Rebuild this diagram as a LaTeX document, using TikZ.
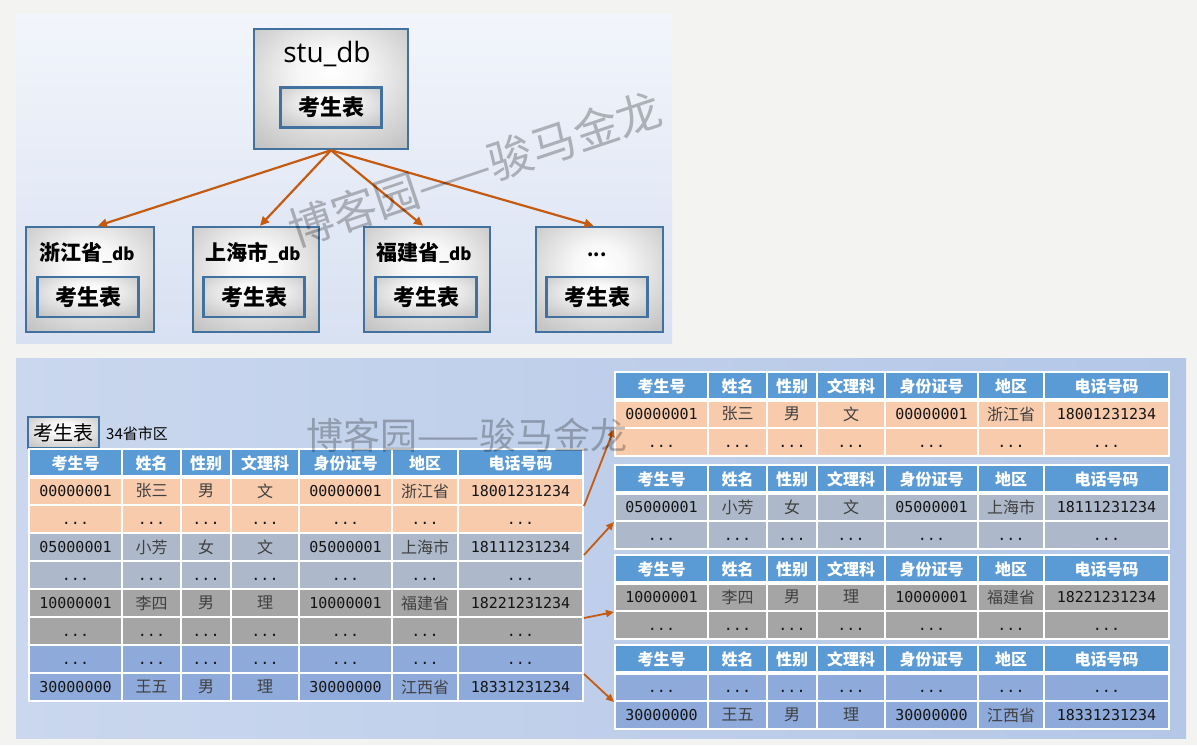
\documentclass[tikz,border=0pt]{standalone}
\usepackage{fontspec}
\setmainfont{Noto Sans CJK SC}
\newfontfamily\cjk{Noto Sans CJK SC}
\newfontfamily\monof{DejaVu Sans Mono}
\newfontfamily\uif{Open Sans}
\usetikzlibrary{arrows.meta,calc}
\definecolor{pagebg}{HTML}{F3F4F1}
\definecolor{ptop}{HTML}{F2F5FB}
\definecolor{pbot}{HTML}{D8E1F2}
\definecolor{qleft}{HTML}{CAD7EE}
\definecolor{qright}{HTML}{B4C7E7}
\definecolor{boxb}{HTML}{41719C}
\definecolor{arrc}{HTML}{C55A11}
\definecolor{hdr}{HTML}{5B9BD5}
\definecolor{rorange}{HTML}{F8CBAD}
\definecolor{rbgray}{HTML}{ADB9CA}
\definecolor{rgray}{HTML}{A5A5A5}
\definecolor{rblue}{HTML}{8EAADB}
\definecolor{cjkgray}{HTML}{404040}
\definecolor{numblk}{HTML}{151515}
\pgfdeclareradialshading{boxsh}{\pgfpoint{0bp}{8bp}}{color(0bp)=(white); color(10bp)=(white!97!black); color(50bp)=(black!34); color(75bp)=(black!46)}
\newcommand\fs[1]{\fontsize{#1}{#1}\selectfont}
\newcommand\dd{{\monof\fs{15}\color{numblk}\vphantom{0}...}}
\newcommand\cellfont[1]{\ifnum#1=1 \monof\fs{15}\color{numblk}\else\ifnum#1=5 \monof\fs{15}\color{numblk}\else\ifnum#1=7 \monof\fs{15}\color{numblk}\else\cjk\fs{16}\color{cjkgray}\fi\fi\fi}
\def\colL{{0,93,152,202,270,363,429}}
\def\colR{{93,152,202,270,363,429,554}}
\tikzset{
  hcell/.style={draw=white, line width=2, fill=hdr, minimum height=28, inner sep=0, text=white, font={\cjk\bfseries\fs{16}}},
  bcell/.style={draw=white, line width=2, minimum height=28, inner sep=0},
  dbbox/.style={draw=boxb, line width=2.5, shading=boxsh, inner sep=0},
  tblbox/.style={draw=boxb, line width=2.2, shading=boxsh, inner sep=0, minimum width=101, minimum height=40, font={\cjk\bfseries\fs{22}}},
  arr/.style={draw=arrc, line width=2.2, -{Triangle[length=9pt,width=8.5pt]}},
  arrs/.style={draw=arrc, line width=1.8, -{Triangle[length=8pt,width=7pt]}},
  wm/.style={text=black, text opacity=0.26, inner sep=0}
}
\newcommand\thead[3]{%
  \foreach \tx [count=\ci] in {考生号,姓名,性别,文理科,身份证号,地区,电话号码}{%
    \pgfmathsetmacro\xa{\colL[\ci-1]}%
    \pgfmathsetmacro\xb{\colR[\ci-1]}%
    \node[hcell, minimum width={\xb-\xa}] (#1-\ci) at ({#2+(\xa+\xb)/2},{#3+14}) {\tx};
  }
  \draw[white, line width=4] (#2,#3+28) -- (#2+554,#3+28);
}
\newcommand\trow[5]{%
  \foreach \tx [count=\ci] in {#5}{%
    \pgfmathsetmacro\xa{\colL[\ci-1]}%
    \pgfmathsetmacro\xb{\colR[\ci-1]}%
    \node[bcell, fill=#4, minimum width={\xb-\xa}] (#1-\ci) at ({#2+(\xa+\xb)/2},{#3+14}) {\cellfont{\ci}\tx};
  }
}
\begin{document}
\begin{tikzpicture}[x=1pt,y=-1pt]
\useasboundingbox (0,0) rectangle (1197,745);
\fill[pagebg] (0,0) rectangle (1197,745);
% panels
\fill[top color=ptop, bottom color=pbot] (16,14) rectangle (672,343);
\fill[left color=qleft, right color=qright] (16,358) rectangle (1186,738);

% ===== top panel =====
\node[dbbox, minimum width=154, minimum height=120] (stu) at (331,89) {};
\node[font={\uif\fs{28}}, inner sep=0] (stut) at (327,54) {stu\_db};
\node[tblbox] (stuk) at (331,107.5) {考生表};

\node[dbbox, minimum width=128, minimum height=105] (b1) at (90,279.5) {};
\node[dbbox, minimum width=126, minimum height=105] (b2) at (256,279.5) {};
\node[dbbox, minimum width=126, minimum height=105] (b3) at (427,279.5) {};
\node[dbbox, minimum width=127, minimum height=105] (b4) at (599.5,279.5) {};
\node[font={\cjk\bfseries\fs{21}}, inner sep=0] (b1t) at (87,253) {浙江省{\fs{17}\_db}};
\node[font={\cjk\bfseries\fs{21}}, inner sep=0] (b2t) at (253,253) {上海市{\fs{17}\_db}};
\node[font={\cjk\bfseries\fs{21}}, inner sep=0] (b3t) at (424,253) {福建省{\fs{17}\_db}};
\node[font={\cjk\bfseries\fs{18}}, inner sep=0] (b4t) at (597,255) {...};
\node[tblbox] (b1k) at (88,297) {考生表};
\node[tblbox] (b2k) at (254,297) {考生表};
\node[tblbox] (b3k) at (426,297) {考生表};
\node[tblbox] (b4k) at (597,297) {考生表};

\draw[arr] (stu.south) -- ($(b1.north)+(8,0)$);
\draw[arr] (stu.south) -- ($(b2.north)+(4,0)$);
\draw[arr] (stu.south) -- ($(b3.north)+(-4,0)$);
\draw[arr] (stu.south) -- ($(b4.north)+(-6,0)$);

% ===== bottom panel =====
\node[draw=boxb, line width=2, shading=boxsh, minimum width=71, minimum height=31, inner sep=0, font={\cjk\fs{20}}] (kb) at (63.5,432.5) {考生表};
\node[anchor=west, inner sep=0, font={\cjk\fs{15}}] (kn) at (106,434) {34省市区};

% left table
\trow{L1}{29}{477}{rorange}{00000001,张三,男,文,00000001,浙江省,18001231234}
\trow{L2}{29}{505}{rorange}{\dd,\dd,\dd,\dd,\dd,\dd,\dd}
\trow{L3}{29}{533}{rbgray}{05000001,小芳,女,文,05000001,上海市,18111231234}
\trow{L4}{29}{561}{rbgray}{\dd,\dd,\dd,\dd,\dd,\dd,\dd}
\trow{L5}{29}{589}{rgray}{10000001,李四,男,理,10000001,福建省,18221231234}
\trow{L6}{29}{617}{rgray}{\dd,\dd,\dd,\dd,\dd,\dd,\dd}
\trow{L7}{29}{645}{rblue}{\dd,\dd,\dd,\dd,\dd,\dd,\dd}
\trow{L8}{29}{673}{rblue}{30000000,王五,男,理,30000000,江西省,18331231234}
\thead{LH}{29}{449}

% right tables
\trow{A1}{615}{400}{rorange}{00000001,张三,男,文,00000001,浙江省,18001231234}
\trow{A2}{615}{428}{rorange}{\dd,\dd,\dd,\dd,\dd,\dd,\dd}
\thead{AH}{615}{372}
\trow{B1}{615}{493}{rbgray}{05000001,小芳,女,文,05000001,上海市,18111231234}
\trow{B2}{615}{521}{rbgray}{\dd,\dd,\dd,\dd,\dd,\dd,\dd}
\thead{BH}{615}{465}
\trow{C1}{615}{583}{rgray}{10000001,李四,男,理,10000001,福建省,18221231234}
\trow{C2}{615}{611}{rgray}{\dd,\dd,\dd,\dd,\dd,\dd,\dd}
\thead{CH}{615}{555}
\trow{D1}{615}{673}{rblue}{\dd,\dd,\dd,\dd,\dd,\dd,\dd}
\trow{D2}{615}{701}{rblue}{30000000,王五,男,理,30000000,江西省,18331231234}
\thead{DH}{615}{645}

% arrows left -> right
\coordinate (s2) at ($(L3-7.south east)+(0,-7)$);
\draw[arrs] (L1-7.south east) -- (A1-1.south west);
\draw[arrs] (s2) -- (B1-1.south west);
\draw[arrs] (L5-7.south east) -- (C1-1.south west);
\draw[arrs] (L7-7.south east) -- (D1-1.south west);

% watermarks
\node[wm, font={\cjk\fs{45}}, rotate=18.5] (wm1) at (475,169) {博客园——骏马金龙};
\node[wm, font={\cjk\fs{37}}] (wm2) at (467,435) {博客园——骏马金龙};
\end{tikzpicture}
\end{document}
